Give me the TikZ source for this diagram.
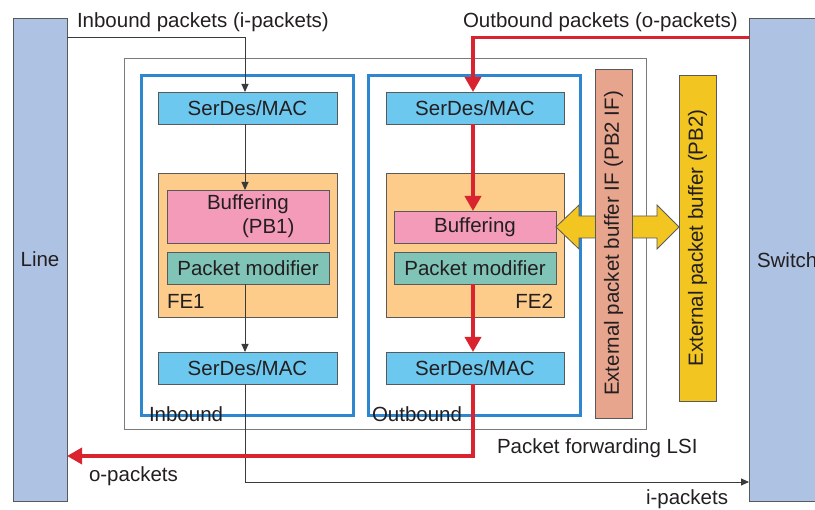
\documentclass[tikz,border=0pt]{standalone}
\usepackage{fontspec}
\setmainfont{Liberation Sans}
\usetikzlibrary{arrows.meta,calc}
\definecolor{txt}{HTML}{231F20}
\definecolor{bordergray}{HTML}{58595B}
\definecolor{lineblue}{HTML}{AEC3E3}
\definecolor{serdes}{HTML}{6DC8EF}
\definecolor{feorange}{HTML}{FDCB8A}
\definecolor{bufpink}{HTML}{F39BB9}
\definecolor{pmteal}{HTML}{80C4B7}
\definecolor{pbifsalmon}{HTML}{E8A58E}
\definecolor{pbyellow}{HTML}{F2C521}
\definecolor{frameblue}{HTML}{2C87D0}
\definecolor{pathred}{HTML}{D9232E}
\definecolor{thingray}{HTML}{3A3A3A}
\begin{document}
\begin{tikzpicture}[x=1pt,y=-1pt,
  every node/.style={font=\fontsize{20.5}{24}\selectfont, text=txt, inner sep=0pt, outer sep=0pt},
  box/.style={draw=bordergray, line width=0.9pt},
  frame/.style={draw=frameblue, line width=3pt},
  lsibox/.style={draw=bordergray!80, line width=0.8pt},
  thinarr/.style={draw=thingray, line width=0.9pt, -{Triangle[length=8pt,width=7pt]}},
  redarr/.style={draw=pathred, line width=3.5pt, -{Triangle[length=15pt,width=16pt]}},
  lbl/.style={anchor=base west}]
\useasboundingbox (0,0) rectangle (815,510);

% side boxes
\node[box, fill=lineblue, minimum width=54, minimum height=483, anchor=north west] (line) at (13,18) {Line};
\node[box, fill=lineblue, minimum width=90, minimum height=483, anchor=north west] (switch) at (749,18) {};
\node[anchor=west] (switchtxt) at (757,260) {Switch};

% LSI and frames
\node[lsibox, minimum width=522, minimum height=371] (lsi) at (385,243.5) {};
\node[frame, minimum width=211.5, minimum height=340] (inframe) at (247.25,246) {};
\node[frame, minimum width=212, minimum height=340] (outframe) at (474.5,246) {};

% inbound chain
\node[box, fill=serdes, minimum width=179, minimum height=32.5] (s1) at (247.5,108.25) {SerDes/MAC};
\node[box, fill=feorange, minimum width=179, minimum height=144] (fe1) at (247.5,245) {};
\node[box, fill=bufpink, minimum width=162, minimum height=53] (b1) at (248,216.5) {};
\node[box, fill=pmteal, minimum width=162, minimum height=32] (pm1) at (248,268) {Packet modifier};
\node[box, fill=serdes, minimum width=179, minimum height=32] (s3) at (247.5,368) {SerDes/MAC};

% outbound chain
\node[box, fill=serdes, minimum width=178, minimum height=32.5] (s2) at (475,108.25) {SerDes/MAC};
\node[box, fill=feorange, minimum width=178, minimum height=144] (fe2) at (475,245) {};
\node[box, fill=bufpink, minimum width=162, minimum height=32] (b2) at (475,227) {Buffering};
\node[box, fill=pmteal, minimum width=162, minimum height=32] (pm2) at (475,268) {Packet modifier};
\node[box, fill=serdes, minimum width=178, minimum height=32] (s4) at (475,368) {SerDes/MAC};

% texts inside
\node[lbl] (buf1) at (207,210) {Buffering};
\node[lbl] (pb1) at (242,234) {(PB1)};
\node[lbl] (fe1lbl) at (167,309) {FE1};
\node[anchor=base east] (fe2lbl) at (553,309) {FE2};
\node[lbl] (inlbl) at (149,422) {Inbound};
\node[lbl] (outlbl) at (372,422) {Outbound};
\node[lbl] (lsilbl) at (497,454) {Packet forwarding LSI};

% external buffer and yellow double arrow
\node[box, fill=pbyellow, minimum width=37, minimum height=326] (pb2) at (697.5,238) {\rotatebox{90}{External packet buffer (PB2)}};
\coordinate (rt) at (pb2.west |- b2.east);
\draw[draw=bordergray, line width=0.8pt, fill=pbyellow, line join=miter]
  (b2.east) -- ++(23,-22) -- ++(0,11) -- ($(rt)+(-22,-11)$) -- ++(0,-11) -- (rt)
  -- ++(-22,22) -- ++(0,-11) -- ($(b2.east)+(23,11)$) -- ++(0,11) -- cycle;
\node[box, fill=pbifsalmon, minimum width=37, minimum height=349] (pbif) at (613.5,243.5) {\rotatebox{90}{External packet buffer IF (PB2 IF)}};

% top / bottom labels
\node[lbl] (inpk) at (77,28) {Inbound packets (i-packets)};
\node[lbl] (outpk) at (463,28) {Outbound packets (o-packets)};
\node[lbl] (opk) at (89,482) {o-packets};
\node[lbl] (ipk) at (646,505) {i-packets};

% connectors
\coordinate (ax) at (245,0);
\coordinate (rx) at (473,0);
\coordinate (iy) at (0,37.5);
\coordinate (oy) at (0,37.5);
\coordinate (ly) at (0,482);
\coordinate (ry) at (0,456);

\draw[thinarr] (line.east |- iy) -| (s1.north -| ax);
\draw[thinarr] (s1.south -| ax) -- (b1.north -| ax);
\draw[thinarr] (pm1.south -| ax) -- (s3.north -| ax);
\draw[thinarr] (s3.south -| ax) |- (switch.west |- ly);

\draw[redarr] (switch.west |- oy) -| (s2.north -| rx);
\draw[redarr] (s2.south -| rx) -- (b2.north -| rx);
\draw[redarr] (pm2.south -| rx) -- (s4.north -| rx);
\draw[redarr] (s4.south -| rx) |- (line.east |- ry);
\end{tikzpicture}
\end{document}
